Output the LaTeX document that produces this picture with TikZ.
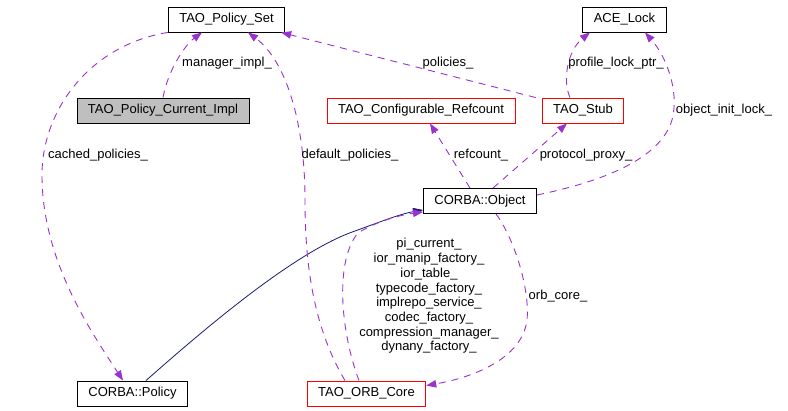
\documentclass[tikz,border=0pt]{standalone}
\usepackage{fontspec}
\setmainfont{Liberation Sans}
\usepackage{tikz}
\usetikzlibrary{arrows.meta}
\definecolor{relcol}{HTML}{9A32CD}
\definecolor{inhcol}{HTML}{191970}
\definecolor{boxgray}{HTML}{BFBFBF}
\begin{document}
\begin{tikzpicture}[
  x=1pt, y=-1pt,
  cls/.style={draw,line width=0.9pt,minimum height=25pt,inner xsep=11pt,inner ysep=0pt,font=\fontsize{13}{15}\selectfont},
  redcls/.style={cls,draw=red},
  rel/.style={draw=relcol,line width=0.9pt,dash pattern=on 7pt off 6pt,-{Triangle[length=10pt,width=7.5pt,fill=relcol]}},
  inh/.style={draw=inhcol,line width=0.8pt,-{Triangle[length=10pt,width=7.5pt,fill=inhcol]}},
  lbl/.style={inner sep=0pt,font=\fontsize{13}{14.7}\selectfont,align=center}
]
\useasboundingbox (0,0) rectangle (788,411);

\node[cls] (pset) at (226.5,19.5) {TAO\_Policy\_Set};
\node[cls,fill=boxgray] (curimpl) at (163,110.5) {TAO\_Policy\_Current\_Impl};
\node[cls] (acelock) at (624.5,19.5) {ACE\_Lock};
\node[redcls] (refcount) at (421,110.5) {TAO\_Configurable\_Refcount};
\node[redcls] (stub) at (583,110.5) {TAO\_Stub};
\node[cls] (object) at (480,201) {CORBA::Object};
\node[cls] (policy) at (132.5,393.5) {CORBA::Policy};
\node[redcls] (orbcore) at (366.5,393.5) {TAO\_ORB\_Core};

% inheritance
\draw[inh] ([xshift=13.5pt]policy.north) .. controls (220,315) and (300,250) .. (355,231)
  .. controls (380,222) and (400,214) .. ([yshift=4pt]object.south west);

% members
\draw[rel] (curimpl.north) .. controls (168,70) and (185,45) .. ([xshift=-24.5pt]pset.south);
\draw[rel] (pset.south west) .. controls (90,45) and (42,110) .. (42,175)
  .. controls (42,260) and (90,330) .. ([xshift=-9.5pt]policy.north);
\draw[rel] ([xshift=-21.5pt]orbcore.north) .. controls (315,330) and (305,270) .. (305,200)
  .. controls (305,120) and (285,60) .. ([xshift=21.5pt]pset.south);
\draw[rel] ([xshift=-6pt]stub.north west) -- ([xshift=-4pt]pset.south east);
\draw[rel] ([xshift=-13pt]stub.north) .. controls (562,80) and (568,50) .. ([xshift=-34.5pt]acelock.south);
\draw[rel] ([yshift=6pt]object.east) .. controls (600,182) and (660,160) .. (672,120)
  .. controls (680,90) and (665,55) .. ([xshift=20.5pt]acelock.south);
\draw[rel] ([xshift=-10pt]object.north) -- ([xshift=9pt]refcount.south);
\draw[rel] ([xshift=13pt]object.north) -- ([xshift=-16pt]stub.south);
\draw[rel] ([xshift=16pt]object.south) .. controls (515,240) and (530,290) .. (527,320)
  .. controls (522,360) and (470,378) .. ([yshift=8pt]orbcore.east);
\draw[rel] ([xshift=-7.5pt]orbcore.north) .. controls (340,330) and (335,260) .. (358,233)
  .. controls (375,222) and (400,215) .. ([yshift=2pt]object.south west);

% labels
\node[lbl] (lmgr) at (227,63) {manager\_impl\_};
\node[lbl] (lcached) at (98,155) {cached\_policies\_};
\node[lbl] (ldefault) at (350,155) {default\_policies\_};
\node[lbl] (lpolicies) at (448,63) {policies\_};
\node[lbl] (lprofile) at (616,63) {profile\_lock\_ptr\_};
\node[lbl] (linit) at (724,110) {object\_init\_lock\_};
\node[lbl] (lrefcount) at (481,155) {refcount\_};
\node[lbl] (lproxy) at (586,155) {protocol\_proxy\_};
\node[lbl] (lorb) at (558,296) {orb\_core\_};
\node[lbl] (lcore) at (429,296) {pi\_current\_\\ior\_manip\_factory\_\\ior\_table\_\\typecode\_factory\_\\implrepo\_service\_\\codec\_factory\_\\compression\_manager\_\\dynany\_factory\_};

\end{tikzpicture}
\end{document}
